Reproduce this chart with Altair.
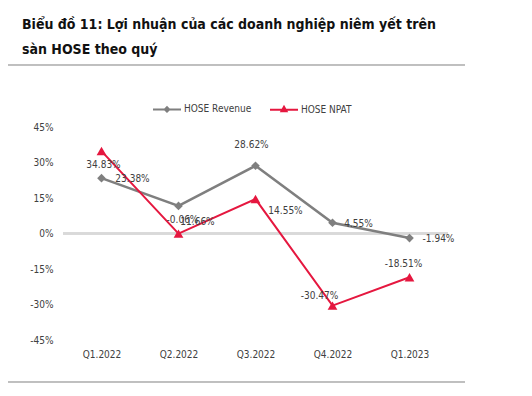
import altair as alt
import pandas as pd

quarters = ["Q1.2022", "Q2.2022", "Q3.2022", "Q4.2022", "Q1.2023"]
revenue = [23.38, 11.66, 28.62, 4.55, -1.94]
npat = [34.83, -0.06, 14.55, -30.47, -18.51]
series_names = ["HOSE Revenue", "HOSE NPAT"]
y_ticks = [-45, -30, -15, 0, 15, 30, 45]

GRAY = "#7f7f7f"
RED = "#e5173f"
FONT = "DejaVu Sans Condensed, Liberation Sans, sans-serif"

rows = []
for i, q in enumerate(quarters):
    rows.append({"q": q, "series": series_names[0], "v": revenue[i], "i": i})
    rows.append({"q": q, "series": series_names[1], "v": npat[i], "i": i})
df = pd.DataFrame(rows)
df["label"] = df["v"].map(lambda v: f"{v:.2f}%")

xenc = alt.X("q:N", sort=quarters, scale=alt.Scale(type="point", padding=0.5),
             axis=alt.Axis(title=None, labelAngle=0, domain=False, ticks=False,
                           labelPadding=9, labelFontSize=10, labelColor="#404040",
                           labelFont=FONT, grid=False))
yaxis = alt.Axis(title=None, values=y_ticks, labelExpr="datum.value + '%'",
                 domain=False, ticks=False, grid=False, labelPadding=10,
                 labelOverlap=False, labelBound=False,
                 labelFontSize=10, labelColor="#404040", labelFont=FONT)
yscale = alt.Scale(domain=[-45, 45], nice=False, zero=False)
yenc = alt.Y("v:Q", scale=yscale, axis=yaxis)

leg = alt.Legend(title=None, orient="none", direction="horizontal",
                 legendX=89, legendY=-33,
                 labelFont=FONT, labelFontSize=10, labelColor="#404040",
                 symbolSize=784, symbolStrokeWidth=2, symbolOpacity=1,
                 columnPadding=14, labelOffset=2)
color_leg = alt.Color("series:N", scale=alt.Scale(domain=series_names, range=[GRAY, RED]), legend=leg)
shape_leg = alt.Shape("series:N", scale=alt.Scale(
    domain=series_names,
    range=["M-1,0L1,0M0,-0.16L0.16,0L0,0.16L-0.16,0Z",
           "M-1,0L1,0M0,-0.2L0.18,0.12L-0.18,0.12Z"]), legend=leg)
color_noleg = alt.Color("series:N", scale=alt.Scale(domain=series_names, range=[GRAY, RED]), legend=None)

base = alt.Chart(df)

legend_layer = base.mark_point(filled=False, opacity=0, strokeWidth=2).encode(
    x=xenc, y=yenc, color=color_leg, shape=shape_leg)

zero = base.mark_rule(color="#d9d9d9", strokeWidth=2).encode(
    y=alt.datum(0, scale=yscale, axis=yaxis), x=alt.value(0), x2=alt.value(385))

sep_top = base.mark_rule(color="#bfbfbf", strokeWidth=1).encode(
    y=alt.value(-62), x=alt.value(-55), x2=alt.value(402))
sep_bot = base.mark_rule(color="#bfbfbf", strokeWidth=1).encode(
    y=alt.value(255), x=alt.value(-55), x2=alt.value(402))

lines_rev = base.transform_filter(alt.datum.series == "HOSE Revenue").mark_line(
    strokeWidth=2.5).encode(x=xenc, y=yenc, color=color_noleg, order="i:Q")
lines_npat = base.transform_filter(alt.datum.series == "HOSE NPAT").mark_line(
    strokeWidth=2).encode(x=xenc, y=yenc, color=color_noleg, order="i:Q")

pts_rev = base.transform_filter(alt.datum.series == "HOSE Revenue").mark_point(
    shape="diamond", filled=True, size=75, opacity=1, color=GRAY).encode(x=xenc, y=yenc)
pts_npat = base.transform_filter(alt.datum.series == "HOSE NPAT").mark_point(
    shape="triangle-up", filled=True, size=95, opacity=1, color=RED).encode(x=xenc, y=yenc)

offsets = {
    ("HOSE NPAT", 0): (2, 14),
    ("HOSE Revenue", 0): (31, 1),
    ("HOSE NPAT", 1): (4, -14),
    ("HOSE Revenue", 1): (19, 16),
    ("HOSE Revenue", 2): (-4, -21),
    ("HOSE NPAT", 2): (30, 12),
    ("HOSE Revenue", 3): (26, 1),
    ("HOSE Revenue", 4): (29, 1),
    ("HOSE NPAT", 3): (-13, -10),
    ("HOSE NPAT", 4): (-6, -13),
}
labels = []
for (s, i), (dx, dy) in offsets.items():
    labels.append(
        base.transform_filter((alt.datum.series == s) & (alt.datum.i == i))
        .mark_text(dx=dx, dy=dy, font=FONT, fontSize=10, color="#404040")
        .encode(x=xenc, y=yenc, text="label:N"))

chart = alt.layer(legend_layer, zero, sep_top, sep_bot, lines_rev, lines_npat, pts_rev, pts_npat, *labels).properties(
    width=385, height=213,
    background="white",
    autosize=alt.AutoSizeParams(type="none"),
    padding={"left": 55, "top": 119, "right": 76, "bottom": 48},
    title=alt.TitleParams(
        text=["Biểu đồ 11: Lợi nhuận của các doanh nghiệp niêm yết trên", "sàn HOSE theo quý"],
        anchor="start", frame="group", dx=-41, offset=8,
        font=FONT, fontSize=14, fontWeight="bold", color="#111111", lineHeight=25),
).configure_view(stroke=None, strokeWidth=0)

chart.save("out.html", embed_options={"renderer": "svg", "actions": False})
